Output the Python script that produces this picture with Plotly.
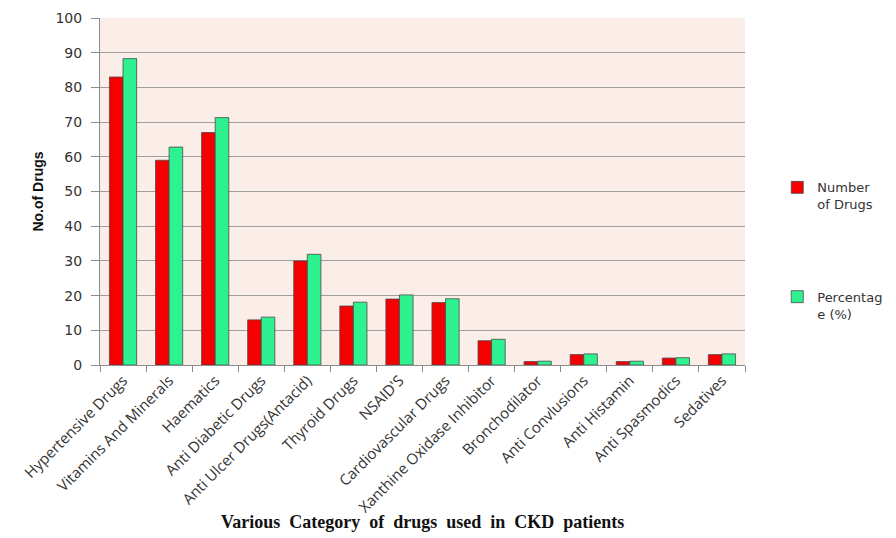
import plotly.graph_objects as go

# Drug categories prescribed to CKD patients
categories = [
    "Hypertensive Drugs", "Vitamins And Minerals", "Haematics",
    "Anti Diabetic Drugs", "Anti Ulcer Drugs(Antacid)", "Thyroid Drugs",
    "NSAID'S", "Cardiovascular Drugs", "Xanthine Oxidase Inhibitor",
    "Bronchodilator", "Anti Convlusions", "Anti Histamin",
    "Anti Spasmodics", "Sedatives",
]
number_of_drugs = [83, 59, 67, 13, 30, 17, 19, 18, 7, 1, 3, 1, 2, 3]
percentage = [88.3, 62.8, 71.3, 13.8, 31.9, 18.1, 20.2, 19.1, 7.4, 1.1, 3.2, 1.1, 2.1, 3.2]
y_ticks = list(range(0, 101, 10))

RED = "#f50000"
GREEN = "#2ef28f"
EDGE = "#4a4a4a"

fig = go.Figure()
fig.add_trace(go.Bar(
    x=categories, y=number_of_drugs, name="Number<br>of Drugs",
    marker=dict(color=RED, line=dict(color=EDGE, width=0.8)),
    legend="legend",
))
fig.add_trace(go.Bar(
    x=categories, y=percentage, name="Percentag<br>e (%)",
    marker=dict(color=GREEN, line=dict(color=EDGE, width=0.8)),
    legend="legend2",
))

legend_style = dict(
    font=dict(family="DejaVu Sans", size=13, color="#333333"),
    bgcolor="rgba(0,0,0,0)", xanchor="left", yanchor="top",
    itemwidth=30, valign="top",
)

fig.update_layout(
    width=896, height=538,
    margin=dict(l=100, r=151, t=18, b=173, autoexpand=False),
    paper_bgcolor="white",
    plot_bgcolor="#fbede7",
    barmode="group",
    bargap=0.41,
    bargroupgap=0,
    showlegend=True,
    legend=dict(x=1.05, y=0.555, **legend_style),
    legend2=dict(x=1.05, y=0.24, **legend_style),
    xaxis=dict(
        type="category",
        tickangle=-45,
        tickson="boundaries",
        ticks="outside", ticklen=6, tickcolor="#8c8c8c",
        showline=True, linecolor="#8c8c8c", linewidth=1,
        showgrid=False,
        tickfont=dict(family="Open Sans", size=15, color="#333333"),
    ),
    yaxis=dict(
        range=[0, 100],
        tickvals=y_ticks,
        ticks="outside", ticklen=8, tickcolor="#8c8c8c",
        ticklabelstandoff=6,
        showline=True, linecolor="#8c8c8c", linewidth=1,
        showgrid=True, gridcolor="#9e9e9e", gridwidth=1,
        zeroline=False,
        tickfont=dict(family="DejaVu Sans", size=14, color="#333333"),
        title=dict(
            text="<b>No.of Drugs</b>",
            font=dict(family="Liberation Sans Narrow, Liberation Sans", size=14, color="#111111"),
            standoff=8,
        ),
    ),
    annotations=[dict(
        text="<b>Various  Category  of  drugs  used  in  CKD  patients</b>",
        xref="paper", yref="paper", x=0.5, y=-0.452,
        xanchor="center", yanchor="middle", showarrow=False,
        font=dict(family="Liberation Serif", size=18, color="#111111"),
    )],
)

fig.write_html("out.html")
